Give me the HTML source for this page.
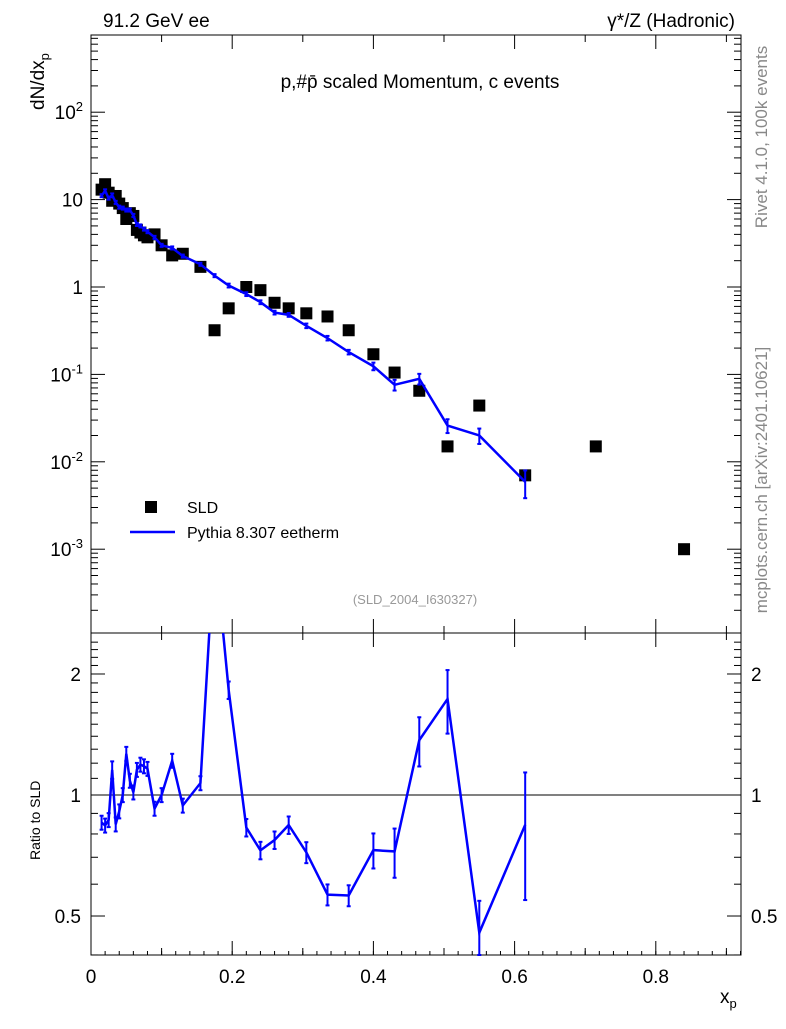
<!DOCTYPE html>
<html><head><meta charset="utf-8"><style>
body{margin:0;background:#fff;}
svg text{font-family:"Liberation Sans",Arial,sans-serif;}
</style></head><body>
<svg id="c" width="786" height="1024" xmlns="http://www.w3.org/2000/svg">
<rect x="0" y="0" width="786" height="1024" fill="#fff"/>
<text x="103" y="27" font-size="19">91.2 GeV ee</text>
<text x="735" y="27" font-size="19" text-anchor="end">γ*/Z (Hadronic)</text>
<text x="420" y="88" font-size="19" text-anchor="middle">p,#p̄ scaled Momentum, c events</text>
<text transform="translate(44,110) rotate(-90)" font-size="19">dN/dx<tspan font-size="13" dy="5">p</tspan></text>
<text transform="translate(40,860) rotate(-90)" font-size="14">Ratio to SLD</text>
<text x="720" y="1003" font-size="19">x<tspan font-size="13" dy="5">p</tspan></text>
<text transform="translate(767,137) rotate(-90)" font-size="17" fill="#888" text-anchor="middle">Rivet 4.1.0,  100k events</text>
<text transform="translate(767,480) rotate(-90)" font-size="17" fill="#888" text-anchor="middle">mcplots.cern.ch [arXiv:2401.10621]</text>
<text x="415" y="604" font-size="13" fill="#999" text-anchor="middle">(SLD_2004_I630327)</text>
<rect x="145" y="501" width="12" height="12" fill="#000"/>
<text x="187" y="513" font-size="16">SLD</text>
<line x1="130" y1="532" x2="175" y2="532" stroke="#0000ff" stroke-width="2.5"/>
<text x="187" y="538" font-size="16">Pythia 8.307 eetherm</text>
<g id="g"></g>
</svg>
<script>
const xs=[0.015,0.02,0.025,0.03,0.035,0.04,0.045,0.05,0.055,0.06,0.065,0.07,0.075,0.08,0.09,0.1,0.115,0.13,0.155,0.175,0.195,0.22,0.24,0.26,0.28,0.305,0.335,0.365,0.4,0.43,0.465,0.505,0.55,0.615,0.715,0.84];
const sld=[13,15,12,9.7,11,9,8,6,7,6.5,4.5,4.2,3.9,3.7,4,3,2.3,2.4,1.7,0.32,0.57,1.0,0.92,0.66,0.57,0.5,0.46,0.32,0.17,0.105,0.065,0.015,0.044,0.007,0.015,0.001];
const mc=[11.1,12.6,10.4,11.2,9.3,8.2,8.0,7.6,7.6,6.6,5.2,5.0,4.6,4.3,3.7,3.0,2.8,2.26,1.82,1.35,1.04,0.83,0.67,0.51,0.48,0.36,0.26,0.18,0.124,0.076,0.089,0.026,0.020,0.0059];
const mcErr=[0.04,0.04,0.04,0.05,0.04,0.04,0.04,0.04,0.04,0.04,0.04,0.04,0.04,0.04,0.04,0.04,0.04,0.04,0.04,0.04,0.05,0.05,0.05,0.05,0.05,0.06,0.06,0.06,0.1,0.14,0.14,0.18,0.2,0.35];
const xTicks=[0,0.2,0.4,0.6,0.8];
const xTickLabels=["0","0.2","0.4","0.6","0.8"];
const yDecades=[-3,-2,-1,0,1,2];
const yTickLabels=["10<sup>-3</sup>","10<sup>-2</sup>","10<sup>-1</sup>","1","10","10<sup>2</sup>"];
const rTicks=[0.5,1,2];
const rTickLabels=["0.5","1","2"];

const L=91,R=741,T=35,M=633,B=955;
const X=v=>L+v*706;
const Y=v=>287-Math.log10(v)*87.4;
const RY=v=>795-Math.log10(v)*402;
const NS="http://www.w3.org/2000/svg";
const g=document.getElementById('g');
function el(t,a,name,p){const e=document.createElementNS(NS,t);for(const k in a)e.setAttribute(k,a[k]);

(p||g).appendChild(e);return e;}
function ln(x1,y1,x2,y2,name,st,w){return el('line',{x1,y1,x2,y2,stroke:st||'#000','stroke-width':w||1},name);}

el('rect',{x:L,y:T,width:R-L,height:M-T,fill:'none',stroke:'#000','stroke-width':1},'main-frame');
el('rect',{x:L,y:M,width:R-L,height:B-M,fill:'none',stroke:'#000','stroke-width':1},'ratio-frame');
for(let i=0;i<=9;i++){const v=i*0.1;const x=X(v);if(x>R)break;const len=(i%2==0)?14:7;
 ln(x,B,x,B-len,'x-tick');ln(x,M,x,M-len,'x-tick-main');ln(x,M,x,M+len,'x-tick-ratio-top');ln(x,T,x,T+len,'x-tick-top');}
for(let i=0;i<=46;i++){const x=X(i*0.02);if(x>R)break;ln(x,B,x,B-4,'x-minor-tick');}
xTicks.forEach((v,i)=>{const t=el('text',{x:X(v),y:B+28,'font-size':19,'text-anchor':'middle'},'x-tick-label');t.textContent=xTickLabels[i];});
for(let d=-4;d<=2;d++){for(let m=1;m<10;m++){const v=m*Math.pow(10,d);const y=Y(v);if(y<T||y>M)continue;const len=m==1?14:7;
 ln(L,y,L+len,y,'y-tick');ln(R,y,R-len,y,'y-tick-right');}}
yDecades.forEach((d,i)=>{const t=el('text',{x:L-8,y:Y(Math.pow(10,d))+7,'font-size':19,'text-anchor':'end'},'y-tick-label');
 t.innerHTML=yTickLabels[i].replace('<sup>','<tspan font-size="13" dy="-8">').replace('</sup>','</tspan>');});
for(let v=0.4;v<=2.5;v+=0.1){const y=RY(v);if(y<M||y>B)continue;const maj=Math.abs(v-0.5)<1e-6||Math.abs(v-1)<1e-6||Math.abs(v-2)<1e-6;
 const len=maj?14:7;ln(L,y,L+len,y,'ratio-tick');ln(R,y,R-len,y,'ratio-tick-right');}
rTicks.forEach((v,i)=>{let t=el('text',{x:L-10,y:RY(v)+7,'font-size':19,'text-anchor':'end'},'ratio-tick-label');t.textContent=rTickLabels[i];
 t=el('text',{x:R+10,y:RY(v)+7,'font-size':19},'ratio-tick-label-right');t.textContent=rTickLabels[i];});
ln(L,RY(1),R,RY(1),'ratio-unity-line');

xs.forEach((x,i)=>{el('rect',{x:X(x)-6,y:Y(sld[i])-6,width:12,height:12,fill:'#000'},'sld-point');});
const clipM=el('clipPath',{id:'cm'},'clip-main');el('rect',{x:L,y:T,width:R-L,height:M-T},'clip-rect',clipM);
const clipR=el('clipPath',{id:'cr'},'clip-ratio');el('rect',{x:L,y:M,width:R-L,height:B-M},'clip-rect',clipR);
let pts=mc.map((v,i)=>X(xs[i])+','+Y(v)).join(' ');
el('polyline',{points:pts,fill:'none',stroke:'#0000ff','stroke-width':2.5,'clip-path':'url(#cm)'},'mc-line');
mc.forEach((v,i)=>{const x=X(xs[i]);const y1=Y(v*(1-mcErr[i])),y2=Y(v*(1+mcErr[i]));
 ln(x,y1,x,y2,'mc-error-bar','#0000ff',2);ln(x-2,y1,x+2,y1,'mc-error-cap','#0000ff',2);ln(x-2,y2,x+2,y2,'mc-error-cap','#0000ff',2);});
const ratio=mc.map((v,i)=>v/sld[i]);
pts=ratio.map((v,i)=>X(xs[i])+','+RY(v)).join(' ');
el('polyline',{points:pts,fill:'none',stroke:'#0000ff','stroke-width':2.5,'clip-path':'url(#cr)'},'ratio-line');
ratio.forEach((v,i)=>{const x=X(xs[i]);const y1=Math.min(B,RY(v*(1-mcErr[i]))),y2=Math.max(M,RY(v*(1+mcErr[i])));if(y2>=y1)return;
 ln(x,y1,x,y2,'ratio-error-bar','#0000ff',2);ln(x-2,y1,x+2,y1,'ratio-error-cap','#0000ff',2);ln(x-2,y2,x+2,y2,'ratio-error-cap','#0000ff',2);});
</script>
</body></html>
